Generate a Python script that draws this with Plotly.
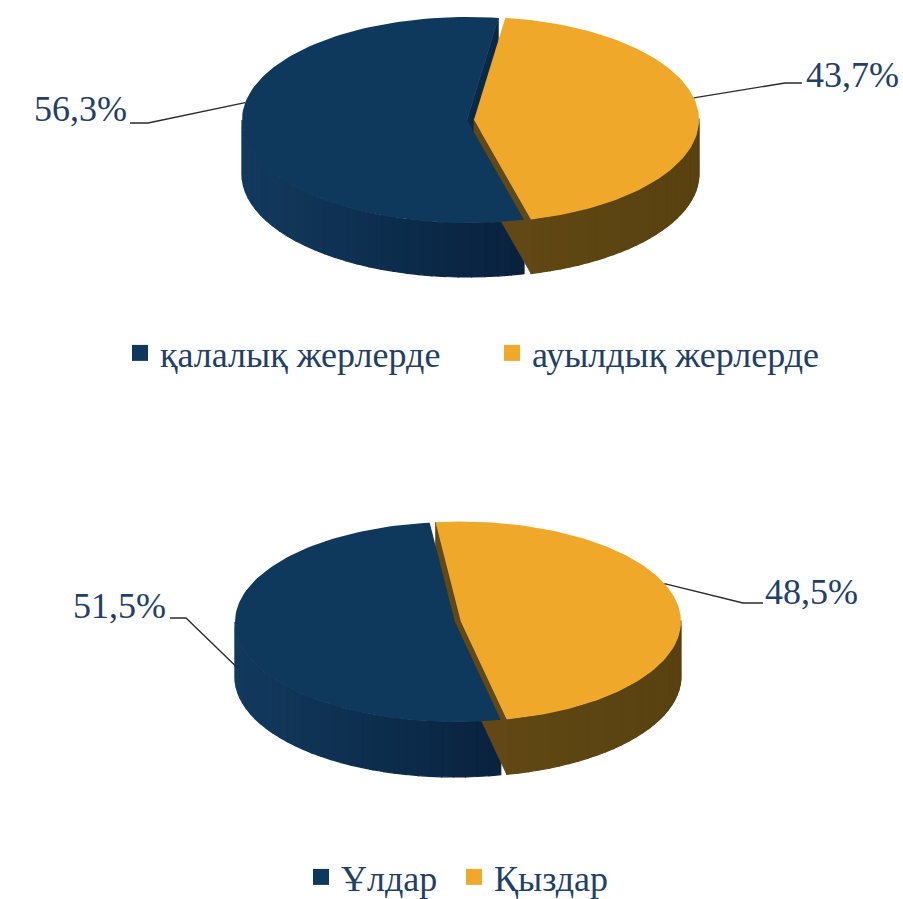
import math
import plotly.graph_objects as go

# ---- data ----
pie1_labels = ["қалалық жерлерде", "ауылдық жерлерде"]
pie1_values = [56.3, 43.7]
pie2_labels = ["Ұлдар", "Қыздар"]
pie2_values = [51.5, 48.5]

TOP = ["#0f385d", "#efa82a"]
SIDE_L = [(18, 58, 94), (110, 80, 26)]
SIDE_R = [(2, 18, 42), (88, 66, 16)]
RADIAL = ["#072a4c", "#614816"]
TEXT_C = "#1f4068"
FONT = "Liberation Serif"

fig = go.Figure()


def pt(cx, cy, rx, ry, t):
    r = math.radians(t)
    return cx + rx * math.cos(r), cy - ry * math.sin(r)


def mix(c1, c2, f):
    return "rgb(%d,%d,%d)" % tuple(round(a + (b - a) * f) for a, b in zip(c1, c2))


def poly(xs, ys, color, lw=0.8):
    fig.add_trace(go.Scatter(x=xs + [xs[0]], y=ys + [ys[0]], mode="lines", fill="toself",
                             fillcolor=color, line=dict(width=lw, color=color),
                             hoverinfo="skip", showlegend=False))


def pie3d(values, cx, cy, rx, ry, depth, start, explode, explode_idx):
    total = sum(values)
    spans = [(start, start + 360 * values[0] / total),
             (start - 360 * values[1] / total, start)]
    geo = []
    for i, (a, b) in enumerate(spans):
        mid = (a + b) / 2
        ox, oy = 0, 0
        if i == explode_idx:
            ox = explode * math.cos(math.radians(mid))
            oy = -explode * math.sin(math.radians(mid)) * ry / rx
        geo.append((a, b, mid, cx + ox, cy + oy))
    for i, (a, b, mid, sx, sy) in enumerate(geo):
        n = 60
        ts = [a + (b - a) * k / n for k in range(n + 1)]
        for k in range(n):
            t1, t2 = ts[k], ts[k + 1]
            if math.sin(math.radians((t1 + t2) / 2)) >= 0.02:
                continue
            x1, y1 = pt(sx, sy, rx, ry, t1)
            x2, y2 = pt(sx, sy, rx, ry, t2)
            f = (1 + math.cos(math.radians((t1 + t2) / 2))) / 2
            col = mix(SIDE_L[i], SIDE_R[i], f)
            poly([x1, x2, x2, x1], [y1, y2, y2 + depth, y1 + depth], col, 1.2)
        for t, sgn in ((a, -1), (b, 1)):
            normal = t + sgn * 90
            if math.sin(math.radians(normal)) < 0:
                ex, ey = pt(sx, sy, rx, ry, t)
                poly([sx, ex, ex, sx], [sy, ey, ey + depth, sy + depth], RADIAL[i])
    for i, (a, b, mid, sx, sy) in enumerate(geo):
        n = 120
        xs, ys = [sx], [sy]
        for k in range(n + 1):
            x, y = pt(sx, sy, rx, ry, a + (b - a) * k / n)
            xs.append(x)
            ys.append(y)
        poly(xs, ys, TOP[i], 0)
    return geo


def leader(geo_i, rx, ry, lx, ly, hx, dt=0.0, drop=0.0):
    a, b, mid, sx, sy = geo_i
    ex, ey = pt(sx, sy, rx, ry, mid + dt)
    fig.add_trace(go.Scatter(x=[lx, hx, ex], y=[ly, ly, ey + drop], mode="lines",
                             line=dict(color="#2a2a2a", width=1.3),
                             hoverinfo="skip", showlegend=False))


def fmt(v):
    return ("%.1f%%" % v).replace(".", ",")


LBL = dict(family=FONT, size=36, color=TEXT_C)

g1 = pie3d(pie1_values, 467, 120, 225, 103, 54, 82, 7, 1)
leader(g1[0], 225, 103, 130, 123, 148, dt=-13)
leader(g1[1], 225, 103, 802, 83, 785, dt=9)
fig.add_annotation(x=129, y=109, text=fmt(pie1_values[0]), showarrow=False, xanchor="right",
                   font=LBL)
fig.add_annotation(x=804, y=75, text=fmt(pie1_values[1]), showarrow=False, xanchor="left",
                   font=LBL)

g2 = pie3d(pie2_values, 455, 622, 220, 100, 55, 96.6, 6, 1)
leader(g2[0], 220, 100, 170, 618, 186, dt=0, drop=30)
leader(g2[1], 220, 100, 763, 603, 743, dt=13)
fig.add_annotation(x=168, y=606, text=fmt(pie2_values[0]), showarrow=False, xanchor="right",
                   font=LBL)
fig.add_annotation(x=763, y=592, text=fmt(pie2_values[1]), showarrow=False, xanchor="left",
                   font=LBL)

for i, lab in enumerate(pie1_labels):
    fig.add_trace(go.Scatter(x=[None], y=[None], mode="markers", name=lab, legend="legend",
                             marker=dict(symbol="square", size=16, color=TOP[i])))
for i, lab in enumerate(pie2_labels):
    fig.add_trace(go.Scatter(x=[None], y=[None], mode="markers", name=lab, legend="legend2",
                             marker=dict(symbol="square", size=16, color=TOP[i])))

leg_common = dict(orientation="h", xanchor="left", yanchor="middle",
                  entrywidthmode="pixels",
                  font=dict(family=FONT, size=36, color=TEXT_C), bgcolor="rgba(0,0,0,0)")
fig.update_layout(
    width=903, height=899, margin=dict(l=0, r=0, t=0, b=0, autoexpand=False),
    paper_bgcolor="white", plot_bgcolor="white",
    xaxis=dict(range=[0, 903], visible=False, fixedrange=True),
    yaxis=dict(range=[899, 0], visible=False, fixedrange=True),
    legend=dict(x=(137 - 17) / 903, y=1 - 353 / 899, entrywidth=327, **leg_common),
    legend2=dict(x=(318 - 17) / 903, y=1 - 877 / 899, entrywidth=108, **leg_common),
)

fig.write_html("out.html", config={"displayModeBar": False},
               post_script="document.body.style.margin='0';document.body.style.overflow='hidden';")
